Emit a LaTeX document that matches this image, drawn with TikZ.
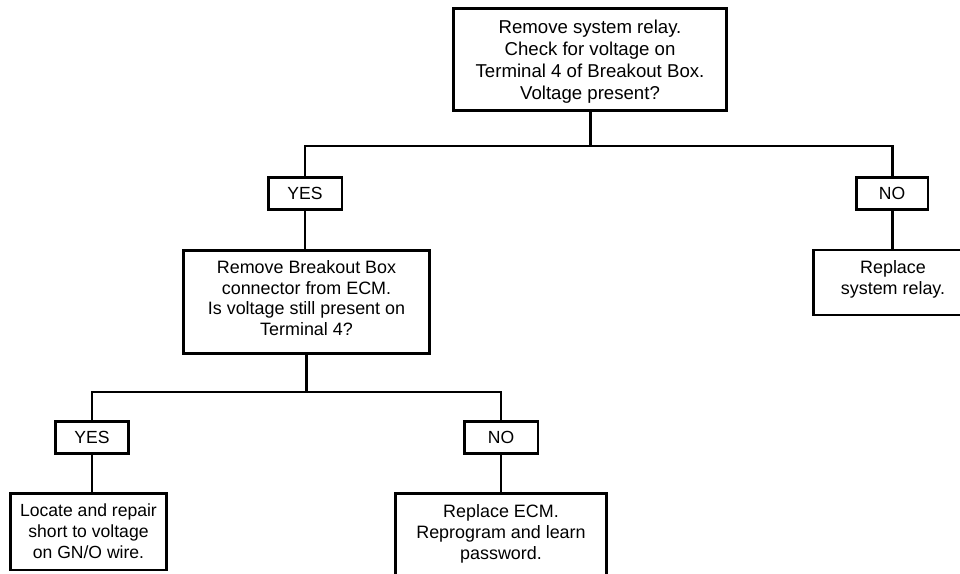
\documentclass[tikz,border=0pt]{standalone}
\usepackage{fontspec}
\setmainfont{Liberation Sans}
\usetikzlibrary{arrows.meta}
\def\wLine{1.7pt}
\definecolor{cInk}{HTML}{000000}
\tikzset{
  chart/.style={x=0.02cm, y=-0.02cm, every node/.style={align=center}},
  step box/.style={draw=cInk, line width=\wLine, fill=white, inner sep=2pt,
    font=\fontsize{10.6}{12.6}\selectfont},
  answer/.style={step box, minimum height=0.63cm, font=\fontsize{10}{12}\selectfont},
  leaf/.style={step box, font=\fontsize{10}{11.9}\selectfont},
  wire/.style={draw=cInk, line width=\wLine},
}

\begin{document}
\begin{tikzpicture}[chart]
\clip (0,0) rectangle (960,574);
% ---- first test
\node[step box, minimum width=5.48cm, minimum height=2.06cm, text depth=-4pt] (relaytest) at (590,59.5)
  {Remove system relay.\\ Check for voltage on\\ Terminal 4 of Breakout Box.\\ Voltage present?};
\node[answer, minimum width=1.48cm] (yesA) at (305,193.5) {YES};
\node[answer, minimum width=1.44cm] (noA)  at (892,193.5) {NO};

% ---- second test / relay (relay box runs off the right edge)
\node[step box, minimum width=4.94cm, minimum height=2.08cm, text depth=4.5pt,
      font=\fontsize{10.2}{11.8}\selectfont] (ecmtest) at (306.5,302)
  {Remove Breakout Box\\ connector from ECM.\\ Is voltage still present on\\ Terminal 4?};
\node[step box, minimum width=3.2cm, minimum height=1.3cm, text depth=5.5pt,
      font=\fontsize{10.2}{11.8}\selectfont] (relay) at (893,282.5)
  {Replace\\ system relay.};
\node[answer, minimum width=1.46cm] (yesB) at (92,437.5) {YES};
\node[answer, minimum width=1.48cm] (noB)  at (501,437.5) {NO};

% ---- leaves (ECM box runs off the bottom)
\node[leaf, minimum width=3.14cm, minimum height=1.54cm] (short) at (88.5,531.5)
  {Locate and repair\\ short to voltage\\ on GN/O wire.};
\node[leaf, minimum width=4.24cm, minimum height=1.8cm, text depth=7pt,
      font=\fontsize{10.2}{11.9}\selectfont] (ecm) at (501,538)
  {Replace ECM.\\ Reprogram and learn\\ password.};

% ---- wires
\coordinate (splitA) at (590,146);
\coordinate (splitB) at (306.5,392);
\draw[wire] (relaytest.south) -- (splitA);
\draw[wire] (yesA.north) |- (splitA) -| (noA.north);
\draw[wire] (yesA.south) -- (yesA.south |- ecmtest.north);
\draw[wire] (noA.south) -- (noA.south |- relay.north);
\draw[wire] (ecmtest.south) -- (splitB);
\draw[wire] (yesB.north) |- (splitB) -| (noB.north);
\draw[wire] (yesB.south) -- (yesB.south |- short.north);
\draw[wire] (noB.south) -- (noB.south |- ecm.north);
\end{tikzpicture}
\end{document}
